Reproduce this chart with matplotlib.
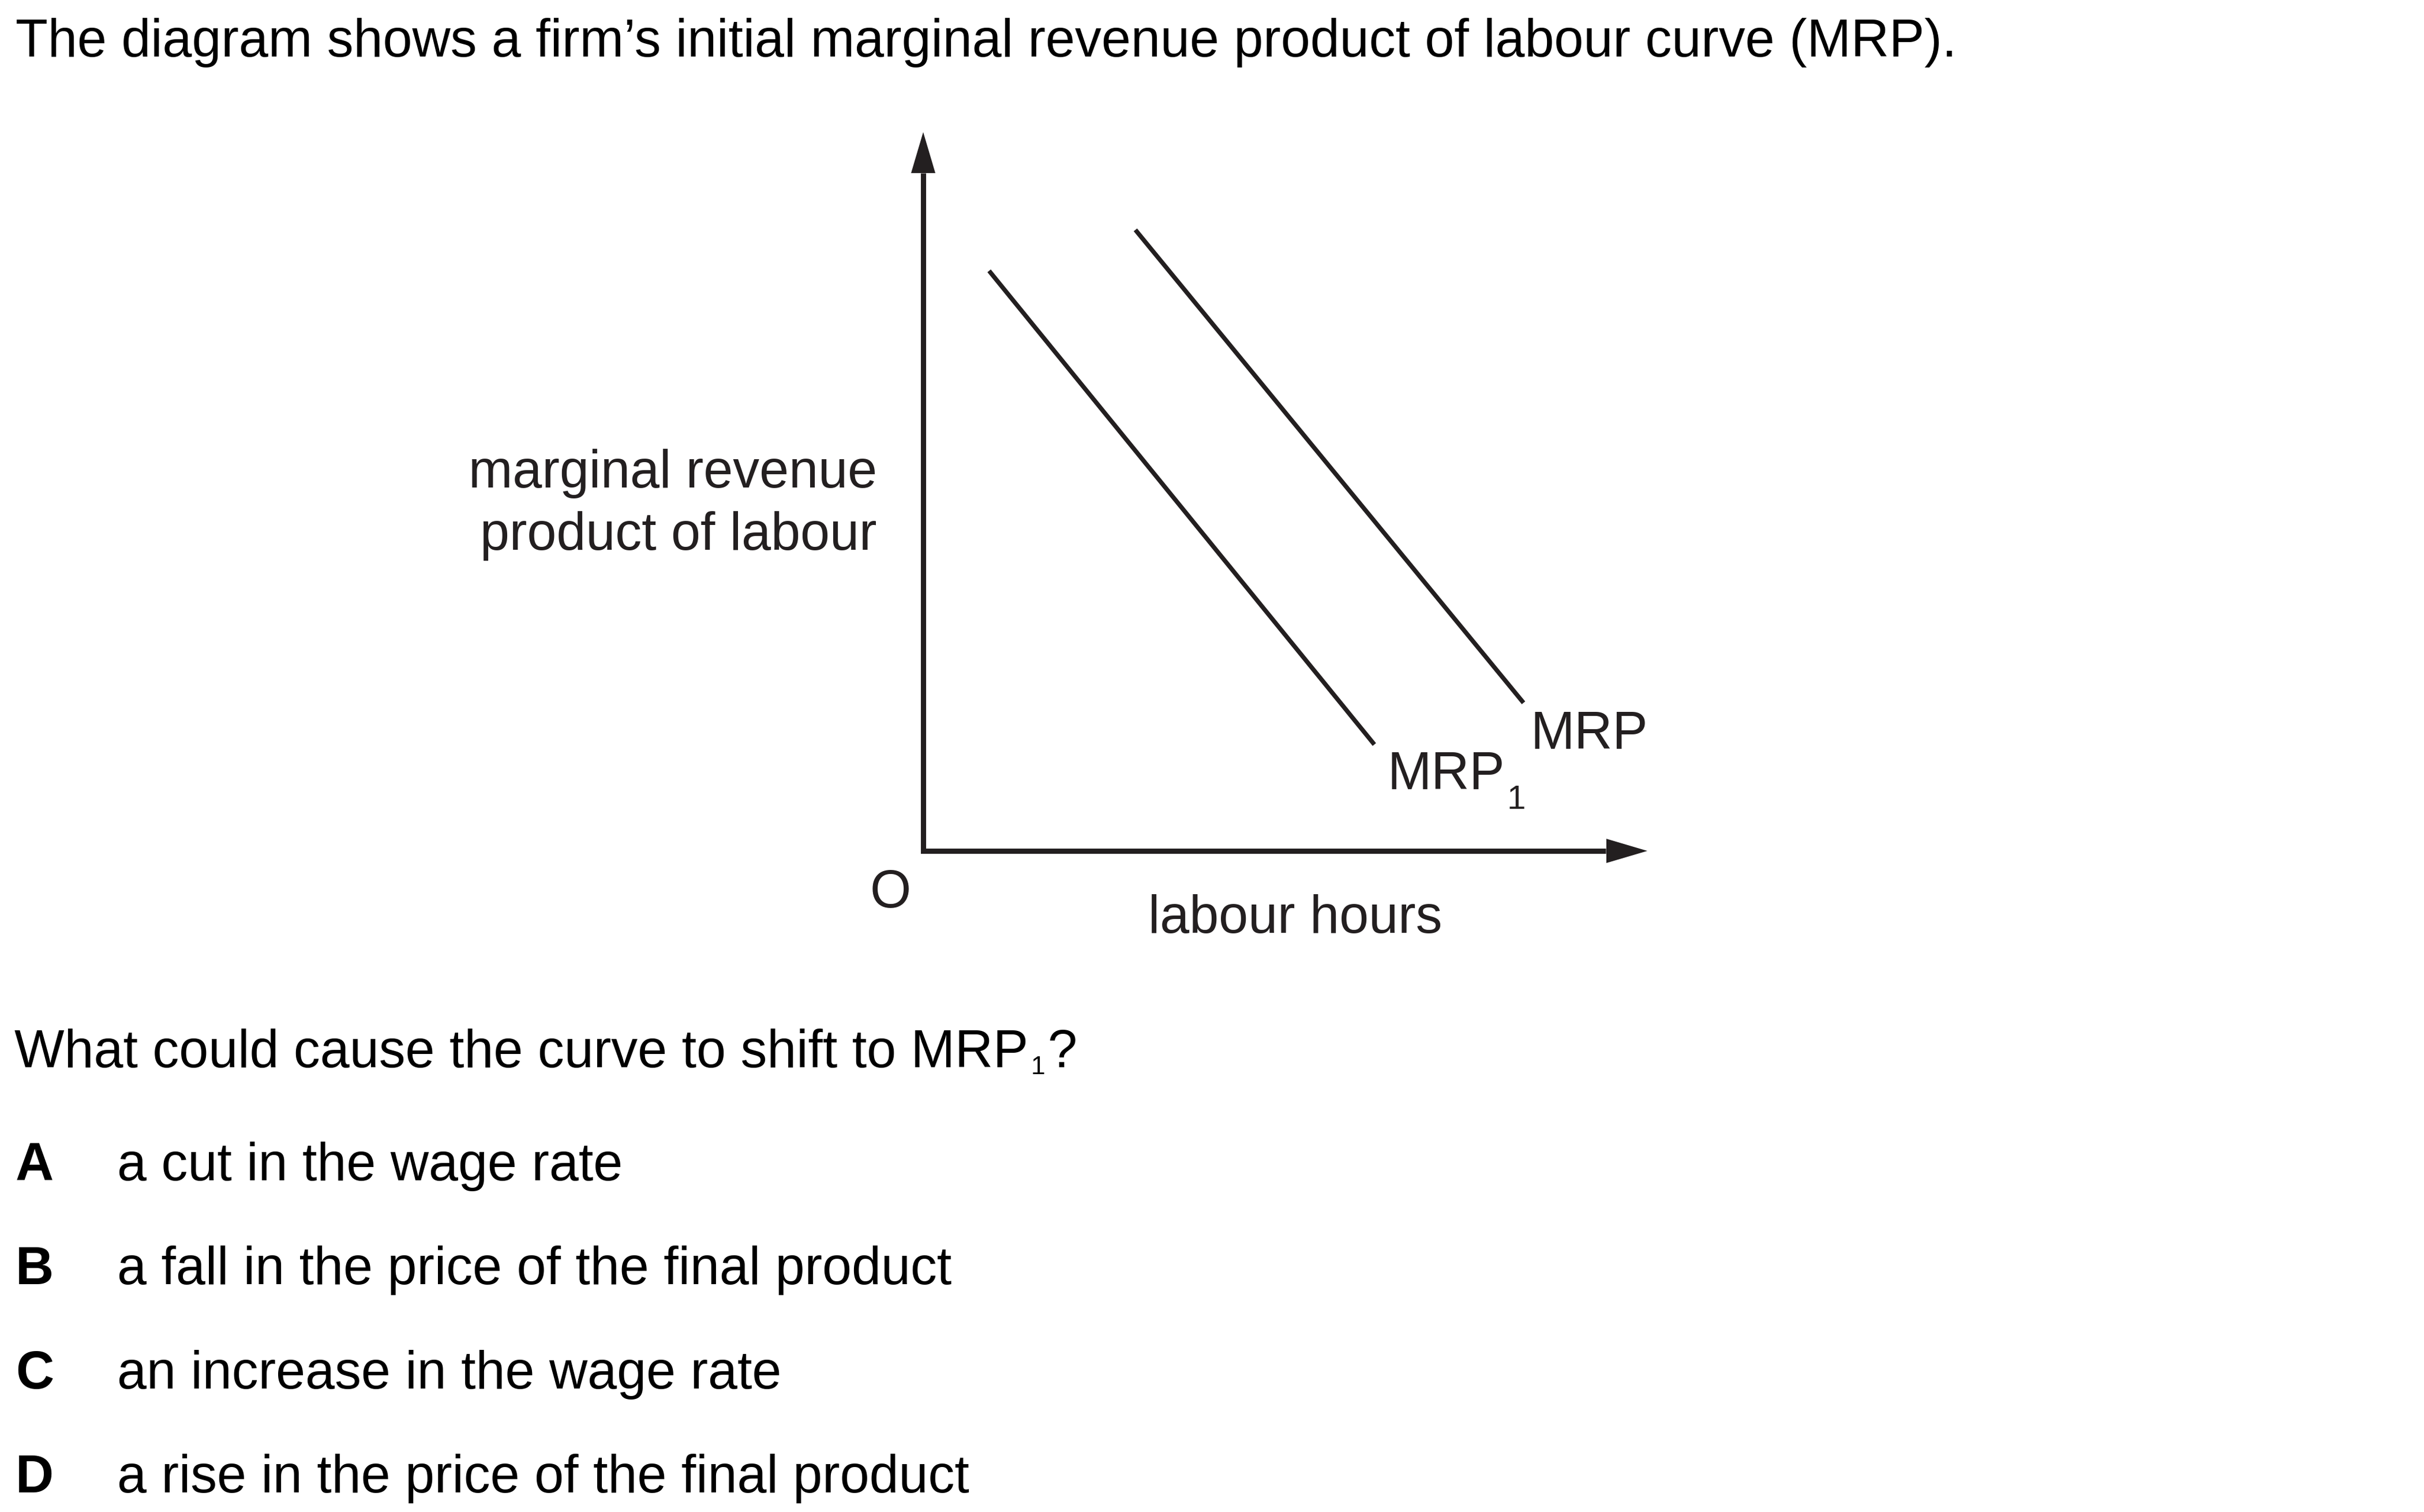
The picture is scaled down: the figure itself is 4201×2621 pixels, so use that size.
import matplotlib
matplotlib.use("Agg")
import matplotlib.pyplot as plt
import numpy as np

plt.rcParams['font.family'] = ['Liberation Sans', 'DejaVu Sans']

# ---- data (diagram coordinates: labour hours on x, MRP on y, axes span 0..100) ----
mrp_x = [29.3, 82.9]
mrp_y = [86.4, 20.6]
mrp1_x = [9.1, 62.3]
mrp1_y = [80.7, 14.8]
axis_max = 100.0
head_base = 94.3

title = "The diagram shows a firm\u2019s initial marginal revenue product of labour curve (MRP)."
question_main = "What could cause the curve to shift to MRP"
question_sub = "1"
question_end = "?"
option_letters = ["A", "B", "C", "D"]
option_texts = ["a cut in the wage rate",
                "a fall in the price of the final product",
                "an increase in the wage rate",
                "a rise in the price of the final product"]
ylabel_lines = ["marginal revenue", "product of labour"]
xlabel = "labour hours"

W, H = 4201, 2621
DPI = 100
fig = plt.figure(figsize=(W / DPI, H / DPI), dpi=DPI)
fig.patch.set_facecolor('white')

def fx(px):
    return px / W

def fy(py):
    return 1 - py / H

FS = 66
SUB_FS = 42
Q_SUB_FS = 32
diag_col = '#231f20'

# axes for the diagram: origin at pixel (1600,1475), arrow tips at (2855,1475) / (1600,229)
ox, oy = 1600, 1475
tipx, tipy = 2855, 229
ax = fig.add_axes([fx(ox), fy(oy), (tipx - ox) / W, (oy - tipy) / H])
ax.set_xlim(0, axis_max)
ax.set_ylim(0, axis_max)
ax.axis('off')

# axis lines
ax.plot([0, 0, head_base], [head_base, 0, 0], color=diag_col, lw=6.5,
        solid_joinstyle='miter', solid_capstyle='butt', clip_on=False)
# arrow heads
for xy, xyt in [((axis_max, 0), (head_base, 0)), ((0, axis_max), (0, head_base))]:
    ax.annotate('', xy=xy, xytext=xyt, xycoords='data', textcoords='data',
                arrowprops=dict(arrowstyle='-|>,head_length=0.71,head_width=0.21',
                                mutation_scale=72, lw=0, color=diag_col,
                                shrinkA=0, shrinkB=0), annotation_clip=False)

# curves
ax.plot(mrp_x, mrp_y, color=diag_col, lw=5.5, solid_capstyle='butt', clip_on=False)
ax.plot(mrp1_x, mrp1_y, color=diag_col, lw=5.5, solid_capstyle='butt', clip_on=False)

# diagram labels
fig.text(fx(1520), fy(845), ylabel_lines[0], fontsize=FS, color=diag_col, ha='right', va='baseline')
fig.text(fx(1520), fy(953), ylabel_lines[1], fontsize=FS, color=diag_col, ha='right', va='baseline')
fig.text(fx(1543), fy(1573), "O", fontsize=FS, color=diag_col, ha='center', va='baseline')
fig.text(fx(2245), fy(1617), xlabel, fontsize=FS, color=diag_col, ha='center', va='baseline')
fig.text(fx(2652), fy(1298), "MRP", fontsize=FS, color=diag_col, ha='left', va='baseline')
fig.text(fx(2405), fy(1368), "MRP", fontsize=FS, color=diag_col, ha='left', va='baseline')
fig.text(fx(2612), fy(1402), "1", fontsize=SUB_FS, color=diag_col, ha='left', va='baseline')

# title
fig.text(fx(27), fy(98), title, fontsize=FS, color='black', ha='left', va='baseline')

# question with subscript
fig.canvas.draw()
renderer = fig.canvas.get_renderer()
qt = fig.text(fx(25), fy(1850), question_main, fontsize=FS, color='black', ha='left', va='baseline')
bb = qt.get_window_extent(renderer=renderer)
st = fig.text((bb.x1 + 4) / W, fy(1862), question_sub, fontsize=Q_SUB_FS, color='black',
              ha='left', va='baseline')
bb2 = st.get_window_extent(renderer=renderer)
fig.text((bb2.x1 + 4) / W, fy(1850), question_end, fontsize=FS, color='black',
         ha='left', va='baseline')

# options
baselines = [2046, 2226, 2407, 2587]
for letter, txt, b in zip(option_letters, option_texts, baselines):
    fig.text(fx(27), fy(b), letter, fontsize=FS, fontweight='bold', color='black',
             ha='left', va='baseline')
    fig.text(fx(203), fy(b), txt, fontsize=FS, color='black', ha='left', va='baseline')

fig.savefig('out.png', dpi=DPI, facecolor='white')
